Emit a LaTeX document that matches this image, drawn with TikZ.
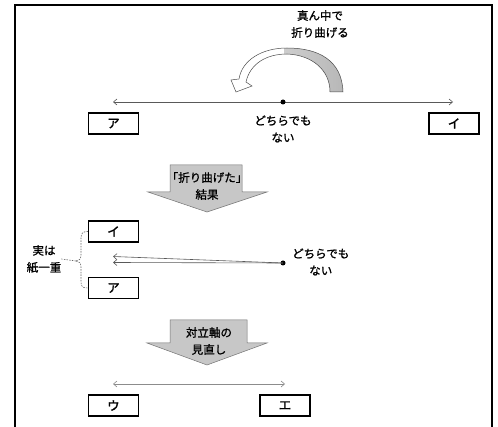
\documentclass[tikz,border=0pt]{standalone}
\usepackage{fontspec}
\newfontfamily\jp[FakeBold=1.2]{Noto Sans CJK JP}
\newfontfamily\jpbox[FakeBold=1.6]{Noto Sans CJK JP}
\usetikzlibrary{arrows.meta}
\begin{document}
\begin{tikzpicture}[x=1pt,y=-1pt,
  lbl/.style={font=\jp\fontsize{11.5}{17}\selectfont,align=center,inner sep=0pt},
  tag/.style={draw=black,line width=1.1pt,minimum width=50pt,minimum height=21pt,inner sep=0pt,font=\jpbox\fontsize{12.5}{14}\selectfont},
  axis/.style={draw=black!65,line width=0.6pt,{Straight Barb[length=3.5pt,width=6pt]}-{Straight Barb[length=3.5pt,width=6pt]}},
  lefttip/.style={draw=black!65,line width=0.6pt,-{Straight Barb[length=3.5pt,width=6pt]}},
  blockarrow/.style={draw=black!55,line width=0.5pt,fill=black!22},
  pt/.style={circle,fill=black,inner sep=0pt,minimum size=5pt},
  bracestyle/.style={draw=black!60,line width=0.6pt,dash pattern=on 1.5pt off 1.2pt}]
\useasboundingbox (0,0) rectangle (498,427);
\fill[white] (0,0) rectangle (498,427);
% frame
\draw[line width=1.8pt] (15,427) -- (15,5) -- (492,5) -- (492,427);

% top label
\node[lbl] (fold) at (320,24) {真ん中で\\折り曲げる};
% curved arrow
\def\curvedpath{(343,92) .. controls (342,60) and (318,48) .. (287,48)
  .. controls (262,48) and (242,60) .. (239,79) -- (231,80) -- (236,92) -- (252,86) -- (246,82)
  .. controls (250,64) and (266,54) .. (287,54) .. controls (312,55) and (330,70) .. (330,92) -- cycle}
\fill[white] \curvedpath;
\begin{scope}
  \clip (284,40) rectangle (350,100);
  \shade[left color=black!12,right color=black!28] \curvedpath;
\end{scope}
\draw[black!70,line width=0.5pt] \curvedpath;

% first axis
\coordinate (l1) at (113,102);
\coordinate (r1) at (453,102);
\draw[axis] (l1) -- (r1);
\node[pt] (m1) at (283,102) {};
\node[tag] (a1) at (113.5,123.5) {ア};
\node[tag] (i1) at (454,123.5) {イ};
\node[lbl] (n1) at (283,129) {どちらでも\\ない};

% block arrow 2
\draw[blockarrow] (170,165) -- (242,165) -- (242,192) -- (267,192) -- (207,212) -- (148,192) -- (170,192) -- cycle;
\node[lbl] (res) at (207,186) {「折り曲げた」\\結果};

% folded
\node[tag] (i2) at (113.5,231.5) {イ};
\node[tag] (a2) at (113.5,288) {ア};
\node[pt] (m2) at (283,263) {};
\coordinate (u2) at (113,256.5);
\coordinate (d2) at (113,262.5);
\draw[lefttip] (m2.center) -- (u2);
\draw[lefttip] (m2.center) -- (d2);
\node[lbl,anchor=west] (n2) at (292,262) {どちらでも\\\hspace*{0pt}ない};
\node[lbl] (same) at (44,259) {実は\\紙一重};
\coordinate (bt) at (76,261);
\draw[bracestyle] (i2.west) .. controls (83,231.5) and (81,233) .. (81,238) -- (81,255)
  .. controls (81,259) and (79,261) .. (bt);
\draw[bracestyle] (bt) .. controls (79,261) and (81,263) .. (81,267) -- (81,282)
  .. controls (81,287) and (83,288) .. (a2.west);
\draw[bracestyle] (bt) -- (same.east);

% block arrow 3
\draw[blockarrow] (170,320) -- (247,320) -- (247,343) -- (267,343) -- (207,365) -- (147,343) -- (170,343) -- cycle;
\node[lbl] (rev) at (209,341) {対立軸の\\見直し};

% new axis
\coordinate (l3) at (113,384);
\coordinate (r3) at (285,384);
\draw[axis,draw=black!45] (l3) -- (r3);
\node[tag] (u3) at (113.5,405.5) {ウ};
\node[tag] (e3) at (285,405.5) {エ};
\end{tikzpicture}
\end{document}
